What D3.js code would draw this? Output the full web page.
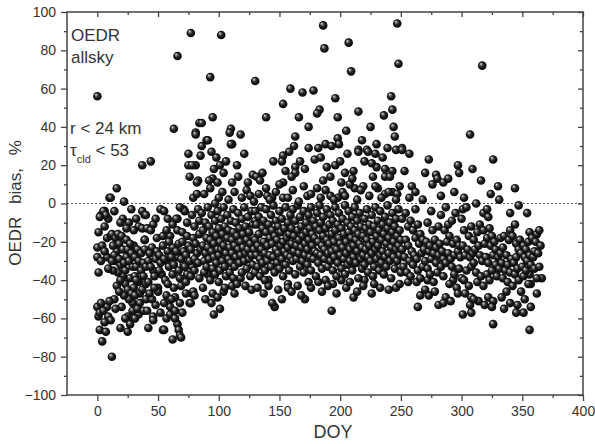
<!DOCTYPE html>
<html>
<head>
<meta charset="utf-8">
<script src="https://cdn.jsdelivr.net/npm/d3@7"></script>
<style>
  body { margin: 0; background: #fff; }
  svg text { font-family: "Liberation Sans", Arial, sans-serif; fill: #333; }
</style>
</head>
<body>
<svg id="chart" width="595" height="444"></svg>
<script>
// Axis ticks
const xMajor = [0, 50, 100, 150, 200, 250, 300, 350, 400];
const xMinor = [25, 75, 125, 175, 225, 275, 325, 375];
const yMajor = [-100, -80, -60, -40, -20, 0, 20, 40, 60, 80, 100];
const yMinor = [-90, -70, -50, -30, -10, 10, 30, 50, 70, 90];

// [DOY, OEDR bias %], grouped by part of the year
const ptsJan = [
  [0,56],[10,3],[6,-4],[3,-6],[9,-8],[21,-8],[16,8],[22,1],
  [1,-15],[0,-23],[0,-28],[8,-28],[8,-18],[11,-17],[12,-16],[15,-18],[17,-16],[20,-17],[5,-4],[7,-6],[2,-7],[6,-12],[11,3],
  [16,-25],[24,-19],[30,-22],[15,-30],[19,-32],[24,-28],[29,-33],[23,-35],[27,-39],[31,-38],[34,-41],[16,-43],[30,-44],[35,-47],
  [37,-4],[39,-6],[34,-12],[39,-19],[37,-13],[37,20],[44,22],
  [0,-54],[1,-59],[2,-57],[8,-54],[9,-59],[11,-61],[2,-66],[7,-67],[4,-72],[12,-80],[19,-65],[25,-67],[20,-54],[25,-59],[29,-56],[29,-52],[35,-52],[34,-58],
  [13,-22],[14,-27],[18,-21],[18,-29],[21,-24],[22,-31],[25,-24],[26,-30],[27,-21],[28,-26],[31,-28],[32,-33],[33,-24],[34,-30],[36,-26],[36,-35],[38,-31],[38,-38],[39,-24],[40,-42],
  [21,-38],[23,-42],[25,-45],[28,-47],[32,-40],[19,-40],[17,-36],[13,-35],[12,-30],[26,-50],[31,-48],[33,-55],[37,-45],[22,-48],[18,-46],[14,-50],
  [6,-62],[5,-56],[3,-52],[10,-51],[15,-55],[23,-60],[27,-63],[31,-60],[38,-56],[40,-50],[40,-33],[4,-22],[3,-30],[6,-25],[9,-34],[1,-36],
  [14,-4],[26,-10],[30,-14],[32,-8],[28,-3],[24,-13],[19,-10]
];
const ptsFebMar = [
  [52,-3],[40,-6],[48,-8],[46,-11],[41,-13],[66,-8],[71,-3],[44,-14],[39,-19],[49,-18],[54,-17],[60,-17],[66,-14],[70,-15],[74,-17],[65,-8],[72,-4],
  [45,-23],[49,-25],[54,-22],[58,-25],[62,-23],[67,-21],[71,-25],[75,-22],[79,-18],[42,-30],[48,-29],[52,-31],[57,-30],[66,-28],[71,-32],[78,-33],[82,-26],
  [46,-35],[53,-37],[62,-37],[68,-39],[74,-37],[42,-41],[50,-44],[57,-48],[64,-49],[78,-47],
  [42,-65],[41,-56],[46,-59],[46,-61],[54,-66],[57,-60],[60,-58],[60,-54],[66,-63],[67,-66],[62,-71],[68,-69],[76,-52],[68,-52],[64,-56],[55,-66],[69,-70],[64,-60],[50,-46],[77,-52],[79,-46],[80,-48],
  [66,77],[77,89],[63,39],[81,37],[84,42],[81,36],[86,30],[75,26],[75,20],[81,20],[76,14],[83,12],[79,3],[85,25],[78,20],[82,11],
  [43,-26],[44,-33],[47,-38],[51,-27],[51,-35],[55,-29],[56,-40],[59,-33],[59,-20],[61,-28],[63,-32],[63,-44],[65,-25],[67,-35],[69,-29],[69,-43],[70,-20],
  [72,-33],[73,-27],[73,-41],[76,-30],[77,-24],[77,-38],[80,-29],[80,-35],[81,-21],[83,-31],[84,-16],[84,-39],[85,-24],
  [58,-42],[55,-52],[61,-50],[48,-53],[52,-57],[45,-50],[70,-57],[73,-47],[62,-11],[58,-8],[55,-4],[68,-2],[74,-10],[78,-6],[83,-3],[84,-9],[80,-12],[82,5],[57,-14],[47,-44],[43,-47]
];
const ptsApr = [
  [102,88],[93,66],[95,45],[86,42],[110,39],[118,36],[90,33],[111,31],[109,37],[91,33],[94,27],[110,31],[101,20],[104,16],[95,13],[93,8],[99,11],[111,11],[116,14],[100,3],[124,11],[123,7],
  [91,-37],[95,-47],[104,-46],[111,-43],[118,-39],
  [86,-5],[87,-14],[87,-22],[88,-30],[88,-36],[89,-10],[89,-26],[90,-18],[90,-33],[91,-2],[91,-23],[92,-12],[92,-29],[93,-40],[93,-19],[94,-6],[94,-25],[95,-34],[95,-15],
  [96,-21],[96,-28],[97,0],[97,-9],[97,-37],[98,-17],[98,-31],[99,-24],[99,-4],[100,-13],[100,-27],[100,-41],[101,-20],[101,-35],[102,-8],[102,-24],[103,-16],[103,-30],
  [104,-2],[104,-22],[105,-12],[105,-33],[106,-26],[106,-38],[107,-6],[107,-18],[108,-29],[108,-14],[109,-23],[109,-36],[110,-9],[110,-31],[111,-19],[111,-26],
  [112,-3],[112,-15],[112,-39],[113,-22],[113,-33],[114,-10],[114,-28],[115,-17],[115,-42],[116,-24],[116,-5],[117,-31],[117,-13],[118,-20],[118,-27],[119,-8],[119,-36],
  [120,-16],[120,-23],[121,-30],[121,-2],[122,-12],[122,-26],[123,-19],[123,-34],[124,-7],[124,-24],[125,-29],[125,-15],[126,-21],[126,-38],[127,-4],[127,-27],
  [128,-11],[128,-32],[129,-18],[129,-24],[130,-9],[130,-36],
  [88,5],[92,12],[96,18],[98,24],[103,6],[106,22],[108,2],[113,6],[115,20],[119,3],[121,26],[126,4],[128,15],[129,1],
  [87,-44],[94,-52],[99,-49],[105,-44],[113,-47],[122,-43],[127,-45],[101,-55],[89,-50],[96,-58]
];
const ptsSummer = [
  [130,64],[159,60],[169,58],[178,59],[196,55],[153,52],[183,49],[181,47],[198,45],[215,48],[242,56],[243,49],[236,46],[139,45],[166,45],
  [163,35],[162,30],[198,34],[199,31],[230,31],[245,35],[188,31],[182,29],[174,29],[193,30],[215,28],[222,28],[186,93],[187,81],[207,84],[209,69],[247,94],[248,73],
  [153,25],[152,22],[167,22],[163,19],[155,17],[163,16],[179,23],[189,19],[196,20],[204,16],[211,17],[206,26],[215,27],[223,27],[229,26],[220,22],[230,19],[237,18],[243,17],
  [227,14],[237,14],[241,14],[131,14],[136,16],[134,12],[153,11],[186,12],[201,11],[202,6],[212,8],[219,9],[231,8],[237,5],[243,6],[247,5],
  [140,4],[144,3],[153,3],[173,4],[181,8],[192,4],[198,3],
  [146,-54],[144,-52],[171,-50],[193,-56],[211,-49],[246,-44],[157,-42],[157,-44],[194,-42],[201,-40],[220,-40],[182,-41],[210,-32],
  [130,-4],[130,-19],[131,-27],[131,-11],[132,-33],[132,-22],[133,-7],[133,-16],[134,-29],[134,-38],
  [135,-2],[135,-24],[136,-13],[136,-31],[137,-20],[137,-9],[138,-26],[138,-35],[139,-15],[139,-3],
  [140,-22],[140,-30],[141,-11],[141,-40],[142,-18],[142,-27],[143,-6],[143,-33],[144,-21],[144,-14],
  [145,-28],[145,-1],[146,-17],[146,-36],[147,-24],[147,-9],[148,-31],[148,-19],[149,-12],[149,-26],
  [150,-4],[150,-34],[151,-22],[151,-15],[152,-29],[152,-8],[153,-20],[153,-38],[154,-25],[154,-13],
  [155,-2],[155,-32],[156,-18],[156,-27],[157,-10],[157,-23],[158,-35],[158,-16],[159,-6],[159,-28],
  [160,-21],[160,-13],[161,-30],[161,-3],[162,-25],[162,-17],[163,-9],[163,-37],[164,-22],[164,-29],
  [165,-14],[165,-1],[166,-26],[166,-19],[167,-33],[167,-7],[168,-23],[168,-12],[169,-30],[169,-17],
  [170,-4],[170,-36],[171,-21],[171,-27],[172,-10],[172,-15],[173,-32],[173,-24],[174,-6],[174,-19],
  [175,-28],[175,-13],[176,-2],[176,-35],[177,-22],[177,-16],[178,-9],[178,-29],[179,-25],[179,-18],
  [180,-12],[180,-38],[181,-5],[181,-26],[182,-20],[182,-31],[183,-14],[183,-1],[184,-27],[184,-10],
  [185,-34],[185,-22],[186,-17],[186,-7],[187,-29],[187,-24],[188,-13],[188,-40],[189,-3],[189,-19],
  [190,-26],[190,-33],[191,-11],[191,-21],[192,-30],[192,-6],[193,-16],[193,-25],[194,-35],[194,-9],
  [195,-20],[195,-28],[196,-2],[196,-14],[197,-24],[197,-38],[198,-11],[198,-31],[199,-18],[199,-5],
  [200,-27],[200,-21],[201,-13],[201,-34],[202,-8],[202,-23],[203,-29],[203,-16],[204,-1],[204,-37],
  [205,-20],[205,-26],[206,-10],[206,-32],[207,-15],[207,-4],[208,-24],[208,-30],[209,-18],[209,-12],
  [210,-35],[210,-7],[211,-22],[211,-28],[212,-14],[212,-2],[213,-31],[213,-19],[214,-25],[214,-9],
  [215,-39],[215,-16],[216,-21],[216,-5],[217,-29],[217,-12],[218,-34],[218,-23],[219,-17],[219,-27],
  [220,-8],[220,-32],[221,-13],[221,-24],[222,-3],[222,-19],[223,-28],[223,-36],[224,-11],[224,-22],
  [225,-30],[225,-15],[226,-6],[226,-26],[227,-20],[227,-38],[228,-12],[228,-33],[229,-24],[229,-2],
  [230,-17],[230,-29],[231,-9],[231,-22],[232,-35],[232,-14],[233,-27],[233,-4],[234,-19],[234,-31],
  [235,-11],[235,-25],[236,-37],[236,-16],[237,-7],[237,-28],[238,-21],[238,-33],[239,-13],[239,-1],
  [240,-26],[240,-18],[241,-30],[241,-10],[242,-23],[242,-39],[243,-15],[243,-5],[244,-28],[244,-20],
  [245,-12],[245,-34],[246,-24],[246,-8],[247,-17],[247,-30],[248,-3],[248,-22],[249,-27],[249,-14],
  [250,-36],[250,-19],
  [132,-44],[137,-47],[141,-43],[149,-45],[152,-50],[160,-46],[165,-43],[168,-48],[176,-44],[185,-46],[190,-43],[197,-47],[205,-44],[214,-46],[219,-43],[226,-47],
  [233,-44],[240,-45],[249,-42],[138,-40],[174,-41],[208,-41],[228,-42],
  [133,5],[139,8],[142,2],[147,6],[150,10],[157,3],[161,7],[166,1],[170,9],[176,5],[184,3],[188,7],[195,2],[204,4],[208,10],[214,2],[217,7],[224,4],[229,9],[234,3],[240,6],[246,2],[249,9],
  [145,22],[158,27],[171,18],[184,24],[192,14],[200,22],[210,13],[218,33],[226,21],[235,24],[239,29],[244,40],[246,28],[174,40],[205,38],[160,14],[225,40]
];
const ptsAutumn = [
  [251,29],[257,26],[273,23],[253,17],[297,20],[298,16],[279,15],[280,13],[285,11],[259,9],[257,3],[251,28],[302,3],[301,-3],
  [264,-54],[273,-48],[281,-53],[287,-49],[285,-52],[256,-41],[263,-41],[272,-40],[293,-40],
  [251,-8],[251,-24],[252,-33],[253,-28],[254,-19],[254,-5],[255,-36],
  [256,-12],[256,-22],[257,-30],[258,-9],[258,-38],[259,-25],[260,-32],[260,-14],
  [261,-27],[262,-18],[262,-3],[263,-29],[264,-35],[264,-11],[265,-21],
  [266,-16],[266,-39],[267,-26],[268,-33],[268,-19],[269,-24],[270,-30],[270,-45],
  [271,-20],[272,-10],[272,-34],[273,-25],[274,-37],[274,-22],[275,-4],[275,-29],
  [276,-14],[277,-26],[277,-41],[278,-19],[279,-31],[279,-23],[280,-36],
  [281,-27],[281,-12],[282,-21],[283,-33],[283,-6],[284,-25],[285,-38],[285,-29],
  [286,-14],[287,-31],[287,-2],[288,-20],[289,-26],[289,-11],[290,-42],[290,-17],
  [291,-29],[292,-9],[292,-33],[293,-21],[294,-37],[294,-27],[295,-5],
  [296,-19],[296,-44],[297,-25],[298,-34],[298,-22],[299,-28],[300,-39],[300,-8],
  [262,6],[268,2],[276,10],[283,4],[289,13],[294,6],[270,16],[266,-48],[278,-46],[291,-51],[297,-47]
];
const ptsDec = [
  [307,36],[317,72],[326,23],[330,9],[354,-5],[318,-5],[322,-7],[326,-63],[356,-66],[301,-58],[308,-57],[307,-53],[303,-47],[308,-49],[314,-51],[322,-49],
  [326,-51],[325,-54],[337,-46],[335,-55],[345,-57],[346,-53],[351,-57],[357,-54],[357,-42],[356,-37],[366,-39],
  [301,-22],[302,-14],[302,-40],[303,-27],[304,-35],[305,-24],
  [306,-17],[306,-43],[307,-28],[308,-33],[308,-12],[309,-26],[310,-19],[310,-31],
  [311,-24],[312,-36],[313,-15],[313,-41],[314,-22],[315,-27],[315,-11],
  [316,-38],[317,-30],[318,-43],[318,-14],[319,-21],[320,-28],
  [321,-37],[321,-18],[322,-31],[323,-13],[323,-40],[324,-22],[325,-35],[325,-17],
  [326,-27],[327,-20],[328,-32],[328,-24],[329,-38],[330,-28],
  [331,-34],[332,-18],[332,-26],[333,-31],[334,-23],[334,-39],[335,-17],
  [336,-35],[337,-27],[338,-32],[338,-41],[339,-19],[340,-36],[340,-14],
  [341,-29],[342,-43],[342,-17],[343,-31],[344,-11],[344,-37],[345,-21],[345,-28],
  [346,-34],[347,-24],[347,-40],[348,-19],[349,-26],[349,-46],[350,-33],
  [351,-22],[351,-38],[352,-28],[353,-35],[353,-24],[354,-30],[355,-20],[355,-42],
  [356,-27],[356,-15],[357,-32],[358,-18],[359,-28],[360,-25],[360,-34],
  [361,-20],[362,-16],[362,-39],[363,-26],[364,-33],[364,-14],[365,-22],
  [304,-2],[312,0],[321,-3],[331,2],[340,-5],[347,-1],[310,-50],[319,-53],[333,-49],[340,-52],[352,-50],[362,-47],[316,12],[324,5],[344,8],[309,18]
];

const allPts = [...ptsJan, ...ptsFebMar, ...ptsApr, ...ptsSummer, ...ptsAutumn, ...ptsDec];

const svg = d3.select("#chart");
const plotL = 67, plotR = 583, plotT = 12, plotB = 395;

const x = d3.scaleLinear().domain([-25, 400]).range([plotL, plotR]);
const y = d3.scaleLinear().domain([-100, 100]).range([plotB, plotT]);

// sphere look for the markers
const grad = svg.append("defs").append("radialGradient")
    .attr("id", "ball")
    .attr("cx", "0.5").attr("cy", "0.5").attr("r", "0.55")
    .attr("fx", "0.32").attr("fy", "0.28");
grad.append("stop").attr("offset", "0%").attr("stop-color", "#f2f2f2");
grad.append("stop").attr("offset", "18%").attr("stop-color", "#8a8a8a");
grad.append("stop").attr("offset", "50%").attr("stop-color", "#222");
grad.append("stop").attr("offset", "100%").attr("stop-color", "#000");

// zero line
svg.append("line")
    .attr("x1", plotL).attr("x2", plotR)
    .attr("y1", y(0)).attr("y2", y(0))
    .attr("stroke", "#555")
    .attr("stroke-width", 1)
    .attr("stroke-dasharray", "2,2");

// points
svg.append("g")
  .selectAll("circle")
  .data(allPts)
  .join("circle")
    .attr("cx", d => x(d[0]))
    .attr("cy", d => y(d[1]))
    .attr("r", 4.3)
    .attr("fill", "url(#ball)");

// axes: labels on bottom/left with outward ticks, mirrored ticks inward on top/right
function styleAxis(g) {
  g.selectAll(".domain").remove();
  g.selectAll("line").attr("stroke", "#444").attr("stroke-width", 1.3);
  g.selectAll("text").attr("fill", "#555").style("font-size", "14px")
    .style("font-family", "'Liberation Sans', Arial, sans-serif");
}

svg.append("g").attr("transform", `translate(0,${plotB})`)
  .call(d3.axisBottom(x).tickValues(xMajor).tickSize(6).tickPadding(5))
  .call(styleAxis);
svg.append("g").attr("transform", `translate(0,${plotB})`)
  .call(d3.axisBottom(x).tickValues(xMinor).tickSize(3).tickFormat(""))
  .call(styleAxis);
svg.append("g").attr("transform", `translate(0,${plotT})`)
  .call(d3.axisTop(x).tickValues(xMajor).tickSize(-5).tickFormat(""))
  .call(styleAxis);
svg.append("g").attr("transform", `translate(0,${plotT})`)
  .call(d3.axisTop(x).tickValues(xMinor).tickSize(-3).tickFormat(""))
  .call(styleAxis);

svg.append("g").attr("transform", `translate(${plotL},0)`)
  .call(d3.axisLeft(y).tickValues(yMajor).tickSize(6).tickPadding(5))
  .call(styleAxis);
svg.append("g").attr("transform", `translate(${plotL},0)`)
  .call(d3.axisLeft(y).tickValues(yMinor).tickSize(3).tickFormat(""))
  .call(styleAxis);
svg.append("g").attr("transform", `translate(${plotR},0)`)
  .call(d3.axisRight(y).tickValues(yMajor).tickSize(-5).tickFormat(""))
  .call(styleAxis);
svg.append("g").attr("transform", `translate(${plotR},0)`)
  .call(d3.axisRight(y).tickValues(yMinor).tickSize(-3).tickFormat(""))
  .call(styleAxis);

// frame
svg.append("rect")
    .attr("x", plotL).attr("y", plotT)
    .attr("width", plotR - plotL).attr("height", plotB - plotT)
    .attr("fill", "none")
    .attr("stroke", "#444")
    .attr("stroke-width", 1.5);

// axis titles
svg.append("text")
    .attr("x", 333).attr("y", 438)
    .attr("text-anchor", "middle")
    .style("font-size", "18px")
    .text("DOY");

svg.append("text")
    .attr("transform", "translate(21,203) rotate(-90)")
    .attr("text-anchor", "middle")
    .style("font-size", "17px")
    .style("word-spacing", "8px")
    .text("OEDR bias, %");

// annotations
const note = svg.append("g").style("font-size", "17px");
note.append("text").attr("x", 71).attr("y", 41).text("OEDR");
note.append("text").attr("x", 71).attr("y", 63).text("allsky");
note.append("text").attr("x", 70).attr("y", 134).text("r < 24 km");
const tau = note.append("text").attr("x", 70).attr("y", 156);
tau.append("tspan").text("τ");
tau.append("tspan").attr("dy", 7).style("font-size", "11px").text("cld");
tau.append("tspan").attr("dy", -7).text(" < 53");
</script>
</body>
</html>
